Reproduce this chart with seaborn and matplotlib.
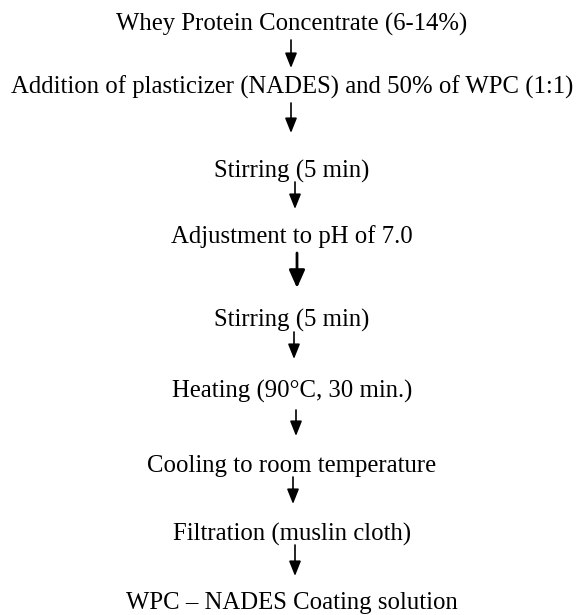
import seaborn as sns
import matplotlib.pyplot as plt

# flowchart steps, top to bottom
steps = [
    "Whey Protein Concentrate (6-14%)",
    "Addition of plasticizer (NADES) and 50% of WPC (1:1)",
    "Stirring (5 min)",
    "Adjustment to pH of 7.0",
    "Stirring (5 min)",
    "Heating (90°C, 30 min.)",
    "Cooling to room temperature",
    "Filtration (muslin cloth)",
    "WPC \u2013 NADES Coating solution",
]
# vertical centre of each step (pixels from top)
step_y = [24, 87, 171, 237, 320, 391, 466, 534, 603]
# arrows between steps: start, end, x position, weight
arrow_start = [40, 103, 182, 253, 332, 410, 477, 545]
arrow_end = [68, 133, 209, 288, 359, 436, 504, 576]
arrow_x = [291, 291, 295, 297, 294, 296, 293, 295]
arrow_bold = [False, False, False, True, False, False, False, False]

sns.set_theme(style="white")
plt.rcParams["font.family"] = ["Liberation Serif", "DejaVu Serif"]

fig, ax = plt.subplots(figsize=(5.8, 6.15), dpi=100)
fig.subplots_adjust(left=0, right=1, bottom=0, top=1)
ax.set_xlim(0, 580)
ax.set_ylim(615, 0)
ax.axis("off")

for label, y in zip(steps, step_y):
    ax.text(292, y, label, ha="center", va="center", fontsize=17.8, color="black")

for y0, y1, x, bold in zip(arrow_start, arrow_end, arrow_x, arrow_bold):
    lw = 2.0 if bold else 1.2
    head = "head_length=0.9,head_width=0.4" if bold else "head_length=0.75,head_width=0.3"
    ax.annotate(
        "", xy=(x, y1), xytext=(x, y0),
        arrowprops=dict(arrowstyle=f"-|>,{head}", color="black", lw=lw,
                        shrinkA=0, shrinkB=0),
    )

fig.savefig("out.png", dpi=100, facecolor="white")
